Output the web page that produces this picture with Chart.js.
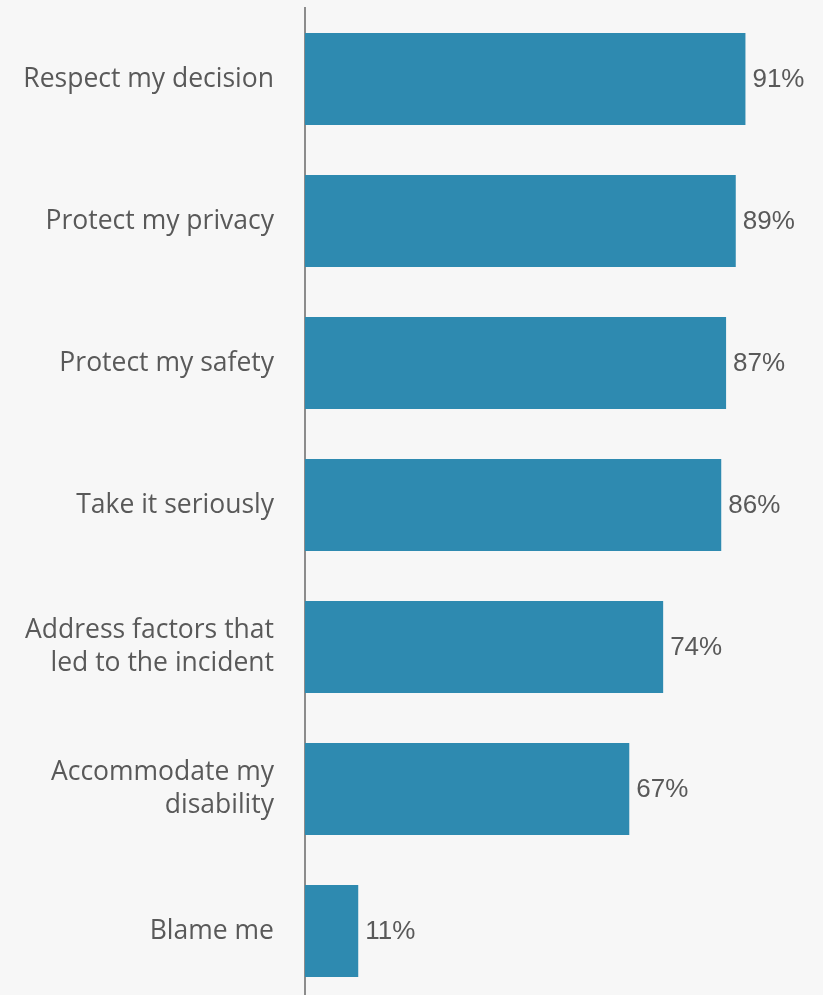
<!DOCTYPE html>
<html>
<head>
<meta charset="utf-8">
<script src="https://cdn.jsdelivr.net/npm/chart.js@4"></script>
<style>
  html, body { margin: 0; padding: 0; background: #f7f7f7; overflow: hidden; }
  #wrap { position: absolute; left: 0; top: 0; width: 823px; height: 1002px; }
</style>
</head>
<body>
<div id="wrap"><canvas id="c" width="823" height="1002"></canvas></div>
<script>
// Survey responses: what people want when reporting an incident
const categories = [
  'Respect my decision',
  'Protect my privacy',
  'Protect my safety',
  'Take it seriously',
  ['Address factors that', 'led to the incident'],
  ['Accommodate my', 'disability'],
  'Blame me'
];
const percentages = [91, 89, 87, 86, 74, 67, 11];

const BAR_COLOR = '#2e8ab0';
const TEXT_COLOR = '#595959';

// Writes the percentage just past the end of each bar
const valueLabels = {
  id: 'valueLabels',
  afterDatasetsDraw(chart) {
    const ctx = chart.ctx;
    const meta = chart.getDatasetMeta(0);
    ctx.save();
    ctx.font = '26px "Liberation Sans", Arial, sans-serif';
    ctx.fillStyle = TEXT_COLOR;
    ctx.textAlign = 'left';
    ctx.textBaseline = 'middle';
    meta.data.forEach((bar, i) => {
      ctx.fillText(percentages[i] + '%', bar.x + 7, bar.y + 1);
    });
    ctx.restore();
  }
};

new Chart(document.getElementById('c'), {
  type: 'bar',
  data: {
    labels: categories,
    datasets: [{
      data: percentages,
      backgroundColor: BAR_COLOR,
      borderWidth: 0,
      categoryPercentage: 1,
      barPercentage: 0.648
    }]
  },
  options: {
    indexAxis: 'y',
    responsive: false,
    animation: false,
    layout: { padding: { top: 8, right: 34, bottom: 0, left: 0 } },
    plugins: { legend: { display: false }, tooltip: { enabled: false } },
    scales: {
      x: { display: false, min: 0, max: 100 },
      y: {
        grid: { display: false, drawTicks: false },
        border: { display: true, color: '#8c8c8c', width: 2 },
        ticks: {
          color: TEXT_COLOR,
          padding: 31,
          font: { family: '"Open Sans", sans-serif', size: 26.5, lineHeight: 1.25 }
        },
        afterFit(scale) {
          scale.width = 305;
          scale.paddingTop = 0;
          scale.paddingBottom = 0;
        }
      }
    }
  },
  plugins: [valueLabels]
});
</script>
</body>
</html>
